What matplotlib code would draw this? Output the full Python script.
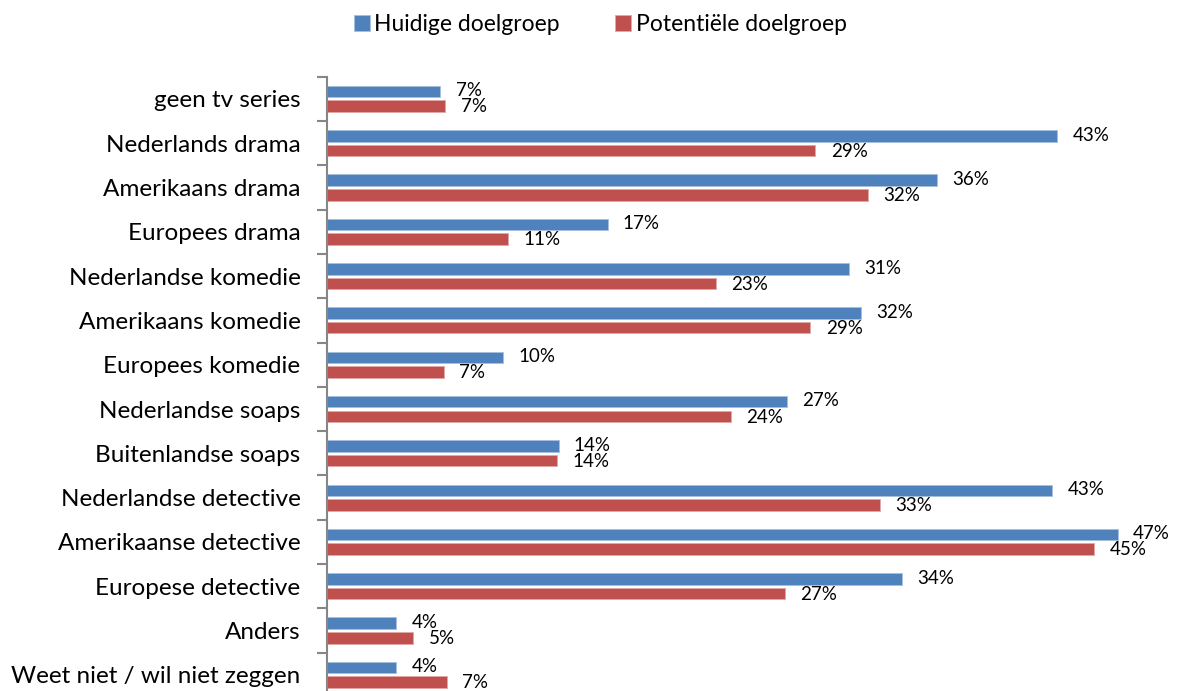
import numpy as np
import matplotlib
matplotlib.use("Agg")
import matplotlib.pyplot as plt
from matplotlib.ticker import FixedLocator

categories = ["geen tv series", "Nederlands drama", "Amerikaans drama", "Europees drama",
              "Nederlandse komedie", "Amerikaans komedie", "Europees komedie",
              "Nederlandse soaps", "Buitenlandse soaps", "Nederlandse detective",
              "Amerikaanse detective", "Europese detective", "Anders",
              "Weet niet / wil niet zeggen"]
huidige = [6.7, 43.2, 36.1, 16.6, 30.9, 31.6, 10.4, 27.2, 13.7, 42.9, 46.8, 34.0, 4.1, 4.1]
potentiele = [7.0, 28.9, 32.0, 10.7, 23.0, 28.6, 6.9, 23.9, 13.6, 32.7, 45.4, 27.1, 5.1, 7.1]
series_names = ["Huidige doelgroep", "Potentiële doelgroep"]

blue = "#4F81BD"
red = "#C0504D"

plt.rcParams['font.family'] = ['Lato', 'DejaVu Sans']

W, H = 1179, 691
fig = plt.figure(figsize=(W / 100, H / 100), dpi=100)
# plot area: x0 = 327 px, top = 76.7 px, bottom extends below the image
x0, x1 = 327, 1160
top, bot = 76.7, 697
ax = fig.add_axes([x0 / W, 1 - bot / H, (x1 - x0) / W, (bot - top) / H])

n = len(categories)
y = np.arange(n)
h = 0.26
off = 0.165
ax.barh(y - off, huidige, height=h, color=blue, edgecolor="#A7BFDE", linewidth=0.6,
        label=series_names[0])
ax.barh(y + off, potentiele, height=h, color=red, edgecolor="#DFA7A6", linewidth=0.6,
        label=series_names[1])

ax.set_xlim(0, (x1 - x0) / 16.9)
ax.set_ylim(n - 0.5, -0.5)

for yi, v in zip(y - off, huidige):
    ax.annotate(f"{round(v)}%", (v, yi), xytext=(11, 0.5), textcoords="offset points",
                va="center", ha="left", fontsize=13.5, clip_on=False)
for yi, v in zip(y + off, potentiele):
    ax.annotate(f"{round(v)}%", (v, yi), xytext=(11, -0.5), textcoords="offset points",
                va="center", ha="left", fontsize=13.5, clip_on=False)

for s in ["top", "right", "bottom"]:
    ax.spines[s].set_visible(False)
ax.spines["left"].set_color("#868686")
ax.spines["left"].set_linewidth(1.5)
ax.set_xticks([])
ax.set_yticks(y)
ax.set_yticklabels(categories, fontsize=17.5)
ax.tick_params(axis="y", which="major", length=0, pad=19)
ax.yaxis.set_minor_locator(FixedLocator(np.arange(n + 1) - 0.5))
ax.tick_params(axis="y", which="minor", length=7, width=1.5, color="#868686")

fig.legend(loc="upper center", bbox_to_anchor=(0.509, 1.01), ncol=2, frameon=False,
           fontsize=16.5, handlelength=0.7, handleheight=0.7, handletextpad=0.2,
           columnspacing=2.4)

fig.savefig("out.png", dpi=100)
